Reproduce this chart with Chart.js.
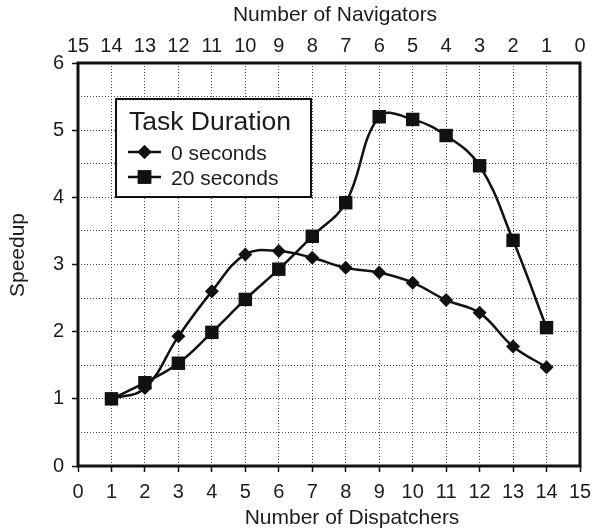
<!DOCTYPE html>
<html>
<head>
<meta charset="utf-8">
<script src="https://cdn.jsdelivr.net/npm/chart.js@4/dist/chart.umd.min.js"></script>
<style>
  html, body { margin: 0; padding: 0; background: #fff; }
  #wrap { width: 600px; height: 531px; position: relative; }
</style>
</head>
<body>
<div id="wrap"><canvas id="c" width="600" height="531"></canvas></div>
<script>
// ---- data ----
const dispatchers = [1, 2, 3, 4, 5, 6, 7, 8, 9, 10, 11, 12, 13, 14];
const speedup0s  = [1.00, 1.16, 1.93, 2.60, 3.15, 3.20, 3.10, 2.95, 2.88, 2.73, 2.47, 2.28, 1.78, 1.47];
const speedup20s = [1.00, 1.24, 1.53, 1.99, 2.48, 2.93, 3.42, 3.92, 5.20, 5.16, 4.92, 4.47, 3.36, 2.06];
const seriesLabels = ['0 seconds', '20 seconds'];
const legendTitle = 'Task Duration';
const xTitle = 'Number of Dispatchers';
const topTitle = 'Number of Navigators';
const yTitle = 'Speedup';

const FONT = '"Liberation Sans", Arial, Helvetica, sans-serif';
const INK = '#1c1c1c';

const toPts = ys => dispatchers.map((x, i) => ({ x: x, y: ys[i] }));

const framePlugin = {
  id: 'frame',
  afterDatasetsDraw(chart) {
    const { ctx, chartArea: a } = chart;
    ctx.save();
    ctx.strokeStyle = '#111';
    ctx.lineWidth = 3;
    ctx.strokeRect(a.left, a.top, a.right - a.left, a.bottom - a.top);
    ctx.restore();
  }
};

const titlesPlugin = {
  id: 'axisTitles',
  afterDraw(chart) {
    const { ctx, chartArea: a } = chart;
    ctx.save();
    ctx.fillStyle = INK;
    ctx.font = '21px ' + FONT;
    ctx.textAlign = 'center';
    ctx.textBaseline = 'alphabetic';
    ctx.fillText(topTitle, a.left + 257, 21);
    ctx.fillText(xTitle, a.left + 274, chart.height - 7.5);
    ctx.translate(23.5, a.top + 192);
    ctx.rotate(-Math.PI / 2);
    ctx.fillText(yTitle, 0, 0);
    ctx.restore();
  }
};

const legendPlugin = {
  id: 'boxLegend',
  afterDraw(chart) {
    const { ctx, chartArea: a } = chart;
    const L = a.left + 38, T = a.top + 36, W = 195, H = 98;
    ctx.save();
    ctx.fillStyle = '#fff';
    ctx.fillRect(L, T, W, H);
    ctx.strokeStyle = '#111';
    ctx.lineWidth = 2;
    ctx.strokeRect(L, T, W, H);
    ctx.fillStyle = INK;
    ctx.textBaseline = 'alphabetic';
    ctx.font = '26.5px ' + FONT;
    ctx.fillText(legendTitle, L + 13, T + 31);
    ctx.font = '21px ' + FONT;
    chart.data.datasets.forEach((ds, i) => {
      const ly = T + 53 + i * 25;
      ctx.strokeStyle = '#111';
      ctx.lineWidth = 2.5;
      ctx.beginPath();
      ctx.moveTo(L + 12, ly);
      ctx.lineTo(L + 45, ly);
      ctx.stroke();
      ctx.fillStyle = '#111';
      Chart.helpers.drawPoint(ctx, { pointStyle: ds.pointStyle, radius: ds.pointRadius, borderWidth: 0 }, L + 28.5, ly);
      ctx.fill();
      ctx.fillStyle = INK;
      ctx.fillText(ds.label, L + 55, ly + 7.5);
    });
    ctx.restore();
  }
};

const gridCommon = {
  lineWidth: 1,
  tickLength: 6,
  tickWidth: 1.5,
};

new Chart(document.getElementById('c'), {
  type: 'line',
  data: {
    datasets: [
      {
        label: seriesLabels[0],
        data: toPts(speedup0s),
        borderColor: '#111',
        backgroundColor: '#111',
        borderWidth: 2.5,
        pointStyle: 'rectRot',
        pointRadius: 7,
        pointBorderWidth: 0,
        tension: 0.4,
        xAxisID: 'x', yAxisID: 'y'
      },
      {
        label: seriesLabels[1],
        data: toPts(speedup20s),
        borderColor: '#111',
        backgroundColor: '#111',
        borderWidth: 2.5,
        pointStyle: 'rect',
        pointRadius: 9.5,
        pointBorderWidth: 0,
        tension: 0.4,
        xAxisID: 'x', yAxisID: 'y'
      }
    ]
  },
  options: {
    responsive: false,
    animation: false,
    layout: { padding: { left: 0, right: 20, top: 0, bottom: 0 } },
    plugins: { legend: { display: false }, tooltip: { enabled: false } },
    scales: {
      x: {
        type: 'linear', position: 'bottom', min: 0, max: 15,
        afterFit: s => { s.height = 65; },
        ticks: { stepSize: 1, color: INK, font: { family: FONT, size: 20 }, padding: 8, maxRotation: 0, autoSkip: false },
        grid: Object.assign({}, gridCommon, {
          color: ctx => (ctx.tick && (ctx.tick.value === 0 || ctx.tick.value === 15)) ? 'rgba(0,0,0,0)' : '#444',
          tickColor: '#111'
        }),
        border: { display: false, dash: [1, 2] },
        title: { display: false }
      },
      x2: {
        type: 'linear', position: 'top', min: 0, max: 15, reverse: true,
        afterFit: s => { s.height = 63; },
        ticks: { stepSize: 1, color: INK, font: { family: FONT, size: 20 }, padding: 5, maxRotation: 0, autoSkip: false },
        grid: { display: false, drawTicks: false, drawOnChartArea: false },
        border: { display: false },
        title: { display: false }
      },
      y: {
        type: 'linear', position: 'left', min: 0, max: 6,
        afterFit: s => { s.width = 78; },
        ticks: {
          stepSize: 0.5, color: INK, font: { family: FONT, size: 20 }, padding: 8,
          callback: v => Number.isInteger(v) ? String(v) : ''
        },
        grid: Object.assign({}, gridCommon, {
          color: ctx => (ctx.tick && (ctx.tick.value === 0 || ctx.tick.value === 6)) ? 'rgba(0,0,0,0)' : '#444',
          tickColor: ctx => (ctx.tick && Number.isInteger(ctx.tick.value)) ? '#111' : 'rgba(0,0,0,0)'
        }),
        border: { display: false, dash: [1, 2] },
        title: { display: false }
      }
    }
  },
  plugins: [framePlugin, legendPlugin, titlesPlugin]
});
</script>
</body>
</html>
